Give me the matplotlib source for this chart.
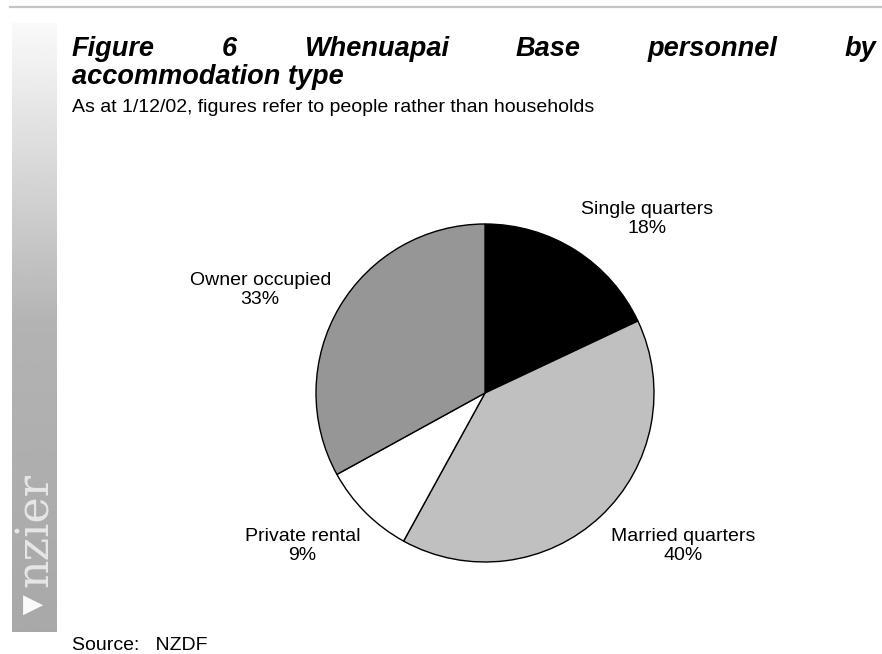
import numpy as np
import matplotlib.pyplot as plt
from matplotlib.lines import Line2D

# accommodation of Whenuapai Base personnel, 1/12/02 (share of people, %)
categories = ["Single quarters", "Married quarters", "Private rental", "Owner occupied"]
shares = [18, 40, 9, 33]
colors = ["#000000", "#c0c0c0", "#ffffff", "#969696"]
# label block centres, in pie radii from the centre
label_xy = [(0.96, 1.03), (1.17, -0.905), (-1.08, -0.905), (-1.33, 0.61)]

title_line1 = "Figure 6 Whenuapai Base personnel by"
title_line2 = "accommodation type"
subtitle = "As at 1/12/02, figures refer to people rather than households"
source = "Source:   NZDF"

W, H = 882, 654
plt.rcParams["font.family"] = ["Liberation Sans", "DejaVu Sans"]
fig = plt.figure(figsize=(W / 100, H / 100), dpi=100)


def fx(x):
    return x / W


def fy(y):
    return 1 - y / H


# thin rule across the top
fig.add_artist(Line2D([fx(10), 1], [fy(7), fy(7)], color="#c4c4c4", lw=1.6))

# grey side strip with the nzier mark
side = fig.add_axes([fx(12), fy(632), fx(57) - fx(12), fy(23) - fy(632)])
rows = np.linspace(0, 1, 300)
shade = np.interp(rows, [0, 0.5, 1], [0.98, 0.70, 0.66])
side.imshow(shade[:, None], cmap="gray", vmin=0, vmax=1, aspect="auto",
            extent=[0, 1, 0, 1], origin="upper")
side.set_axis_off()
side.text(0.53, 0.168, "nzier", rotation=90, ha="center", va="center",
          family="DejaVu Serif", fontsize=32, color="#e6e6e6",
          transform=side.transAxes)
side.text(0.47, 0.044, "\u25b6", ha="center", va="center",
          family="DejaVu Sans", fontsize=19, color="#fafafa",
          transform=side.transAxes)

# justified first title line
x_left, x_right = 72, 876
words = title_line1.split()
word_texts = [fig.text(0, fy(56), w, fontsize=19.5, fontweight="bold",
                       fontstyle="italic") for w in words]
fig.canvas.draw()
renderer = fig.canvas.get_renderer()
widths = [t.get_window_extent(renderer).width for t in word_texts]
gap = (x_right - x_left - sum(widths)) / (len(words) - 1)
x = x_left
for t, w in zip(word_texts, widths):
    t.set_x(fx(x))
    x += w + gap

fig.text(fx(x_left), fy(84), title_line2, fontsize=19.5, fontweight="bold",
         fontstyle="italic")
fig.text(fx(x_left), fy(112), subtitle, fontsize=14)
fig.text(fx(x_left), fy(650), source, fontsize=14)

# pie
cx, cy, r = 485, 393, 169
pad = 1.02
ax = fig.add_axes([fx(cx - r * pad), fy(cy + r * pad), 2 * r * pad / W, 2 * r * pad / H])
ax.pie(shares, colors=colors, startangle=90, counterclock=False,
       wedgeprops=dict(edgecolor="black", linewidth=1.0))
ax.set_xlim(-pad, pad)
ax.set_ylim(-pad, pad)
ax.set_aspect("equal")
for cat, val, (lx, ly) in zip(categories, shares, label_xy):
    ax.text(lx, ly, f"{cat}\n{val}%", ha="center", va="center", fontsize=14,
            linespacing=1.2, clip_on=False)

fig.savefig("out.png", dpi=100)
